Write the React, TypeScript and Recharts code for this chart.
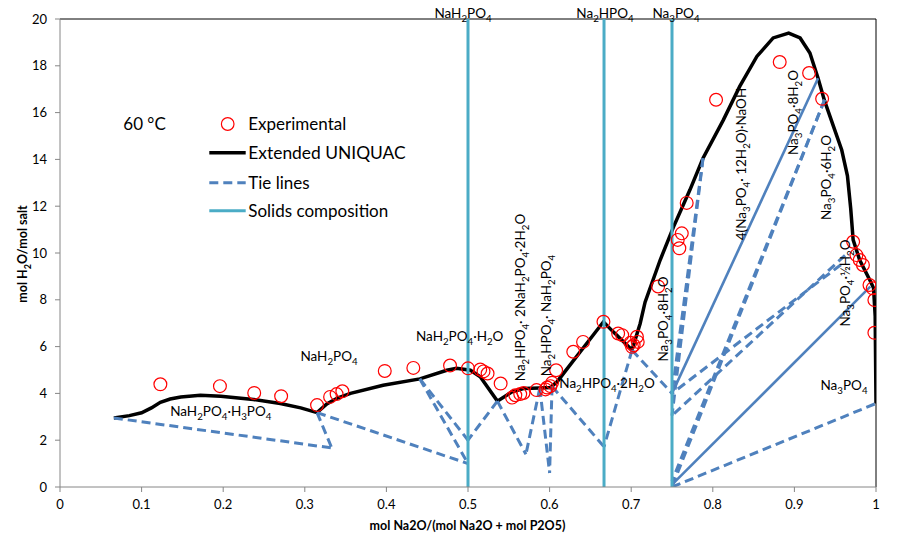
import React from 'react';
import { ComposedChart, Line, Scatter, XAxis, YAxis, ReferenceLine } from 'recharts';

const FONT = "Lato, 'Open Sans', sans-serif";
const W = 882;
const H = 540;

const xTicks = [0, 0.1, 0.2, 0.3, 0.4, 0.5, 0.6, 0.7, 0.8, 0.9, 1];
const yTicks = [0, 2, 4, 6, 8, 10, 12, 14, 16, 18, 20];

// Solid compositions (vertical lines)
const solidsX = [0.5, 0.6667, 0.75];

// Extended UNIQUAC solubility curve
const curve = [
  { x: 0.066, y: 2.95 }, { x: 0.085, y: 3.05 }, { x: 0.1, y: 3.17 }, { x: 0.112, y: 3.38 },
  { x: 0.123, y: 3.62 }, { x: 0.135, y: 3.76 }, { x: 0.148, y: 3.85 }, { x: 0.172, y: 3.92 },
  { x: 0.197, y: 3.88 }, { x: 0.237, y: 3.74 }, { x: 0.27, y: 3.57 }, { x: 0.295, y: 3.38 },
  { x: 0.315, y: 3.18 }, { x: 0.327, y: 3.55 }, { x: 0.34, y: 3.8 }, { x: 0.356, y: 4.0 },
  { x: 0.396, y: 4.35 }, { x: 0.441, y: 4.62 }, { x: 0.474, y: 4.99 }, { x: 0.486, y: 5.07 },
  { x: 0.503, y: 4.99 }, { x: 0.515, y: 4.71 }, { x: 0.536, y: 3.67 }, { x: 0.554, y: 4.07 },
  { x: 0.568, y: 4.21 }, { x: 0.588, y: 4.23 }, { x: 0.601, y: 4.25 }, { x: 0.609, y: 4.49 },
  { x: 0.666, y: 7.06 }, { x: 0.678, y: 6.63 }, { x: 0.701, y: 5.85 }, { x: 0.711, y: 6.99 },
  { x: 0.717, y: 7.9 }, { x: 0.7355, y: 9.7 }, { x: 0.752, y: 11.13 }, { x: 0.772, y: 12.7 },
  { x: 0.788, y: 14.05 }, { x: 0.813, y: 15.69 }, { x: 0.833, y: 17.12 }, { x: 0.854, y: 18.4 },
  { x: 0.874, y: 19.19 }, { x: 0.893, y: 19.4 }, { x: 0.907, y: 19.19 }, { x: 0.919, y: 18.55 },
  { x: 0.929, y: 17.47 }, { x: 0.937, y: 16.5 }, { x: 0.948, y: 15.4 }, { x: 0.958, y: 14.4 },
  { x: 0.965, y: 13.3 }, { x: 0.969, y: 11.9 }, { x: 0.972, y: 10.56 }, { x: 0.98, y: 9.7 },
  { x: 0.993, y: 8.8 }, { x: 0.997, y: 8.5 }, { x: 0.999, y: 7.3 }, { x: 1.0, y: 3.57 },
];

// Experimental points
const experimental = [
  { x: 0.123, y: 4.39 }, { x: 0.196, y: 4.31 }, { x: 0.238, y: 4.02 }, { x: 0.271, y: 3.88 },
  { x: 0.315, y: 3.5 }, { x: 0.331, y: 3.85 }, { x: 0.339, y: 3.97 }, { x: 0.346, y: 4.09 },
  { x: 0.398, y: 4.96 }, { x: 0.433, y: 5.09 }, { x: 0.478, y: 5.19 }, { x: 0.5, y: 5.07 },
  { x: 0.515, y: 5.02 }, { x: 0.519, y: 4.94 }, { x: 0.524, y: 4.85 }, { x: 0.54, y: 4.42 },
  { x: 0.554, y: 3.82 }, { x: 0.558, y: 3.92 }, { x: 0.564, y: 3.97 }, { x: 0.568, y: 4.02 },
  { x: 0.584, y: 4.14 }, { x: 0.595, y: 4.17 }, { x: 0.597, y: 4.25 }, { x: 0.601, y: 4.31 },
  { x: 0.603, y: 4.45 }, { x: 0.608, y: 4.99 }, { x: 0.629, y: 5.78 }, { x: 0.641, y: 6.2 },
  { x: 0.666, y: 7.06 }, { x: 0.684, y: 6.56 }, { x: 0.689, y: 6.49 }, { x: 0.699, y: 6.16 },
  { x: 0.701, y: 5.99 }, { x: 0.703, y: 6.06 }, { x: 0.707, y: 6.42 }, { x: 0.708, y: 6.2 },
  { x: 0.733, y: 8.57 }, { x: 0.759, y: 10.2 }, { x: 0.757, y: 10.56 }, { x: 0.762, y: 10.84 },
  { x: 0.768, y: 12.14 }, { x: 0.804, y: 16.55 }, { x: 0.882, y: 18.16 }, { x: 0.918, y: 17.69 },
  { x: 0.934, y: 16.59 }, { x: 0.972, y: 10.48 }, { x: 0.976, y: 9.91 }, { x: 0.98, y: 9.7 },
  { x: 0.984, y: 9.49 }, { x: 0.992, y: 8.63 }, { x: 0.996, y: 8.49 }, { x: 0.998, y: 7.99 },
  { x: 0.998, y: 6.59 },
];

// Tie lines: [x1, y1, x2, y2]
const tieLines: number[][] = [
  [0.066, 2.95, 0.333, 1.67],
  [0.315, 3.18, 0.333, 1.67],
  [0.315, 3.18, 0.5, 1.0],
  [0.441, 4.62, 0.5, 1.0],
  [0.441, 4.62, 0.5, 2.0],
  [0.536, 3.67, 0.5, 2.0],
  [0.536, 3.67, 0.571, 1.4],
  [0.588, 4.23, 0.571, 1.4],
  [0.588, 4.23, 0.6, 0.6],
  [0.603, 4.3, 0.6, 0.6],
  [0.603, 4.3, 0.6667, 1.72],
  [0.701, 5.85, 0.6667, 1.72],
  [0.701, 5.85, 0.75, 4.0],
  [0.788, 14.05, 0.75, 4.0],
  [0.788, 14.05, 0.75, 3.05],
  [0.937, 16.55, 0.75, 0.25],
  [0.937, 16.55, 0.75, 0.0],
  [0.957, 9.5, 0.75, 4.0],
  [0.962, 9.9, 0.75, 3.05],
  [0.75, 0.0, 1.0, 3.57],
];
// Tie lines drawn so densely they appear solid
const solidTieLines: number[][] = [
  [0.75, 4.0, 0.929, 17.47],
  [0.75, 0.1, 0.993, 8.56],
];

const TIE = '#4F81BD';
const SOLID = '#4BACC6';

function spans(text: string, fs: number) {
  const out: React.ReactNode[] = [];
  const re = /_(\d+)|([^_]+)/g;
  let m: RegExpExecArray | null;
  let inSub = false;
  let k = 0;
  const sh = fs * 0.3;
  while ((m = re.exec(text))) {
    if (m[1] !== undefined) {
      out.push(<tspan key={k++} fontSize={fs * 0.72} dy={inSub ? 0 : sh}>{m[1]}</tspan>);
      inSub = true;
    } else {
      out.push(<tspan key={k++} fontSize={fs} dy={inSub ? -sh : 0}>{m[2]}</tspan>);
      inSub = false;
    }
  }
  return out;
}

function Lbl({ x, y, text, fs = 13.5, rot = false, anchor = 'middle', weight = 'normal' }:
  { x: number; y: number; text: string; fs?: number; rot?: boolean; anchor?: string; weight?: string }) {
  const tr = rot ? `translate(${x},${y}) rotate(-90)` : `translate(${x},${y})`;
  return (
    <text transform={tr} x={0} y={fs * 0.35} textAnchor={anchor as any} fontSize={fs}
      fontFamily={FONT} fontWeight={weight} fill="#000">
      {spans(text, fs)}
    </text>
  );
}

const Circle = (p: any) => (
  <circle cx={p.cx} cy={p.cy} r={6.4} fill="none" stroke="#FF0000" strokeWidth={1.2} />
);

export default function App() {
  const tick = { fontSize: 13, fill: '#000', fontFamily: FONT };
  return (
    <div style={{ position: 'relative', width: W, height: H }}>
      <ComposedChart width={W} height={H} margin={{ top: 11, right: 14, bottom: 31, left: 0 }}>
        <XAxis type="number" dataKey="x" domain={[0, 1]} ticks={xTicks} interval={0}
          tick={tick} tickSize={5} tickMargin={8} height={30}
          axisLine={{ stroke: '#868686' }} tickLine={{ stroke: '#868686' }} allowDataOverflow />
        <YAxis type="number" dataKey="y" domain={[0, 20]} ticks={yTicks} interval={0}
          tick={tick} tickSize={5} tickMargin={8} width={52}
          axisLine={{ stroke: '#868686' }} tickLine={{ stroke: '#868686' }} allowDataOverflow />
        <ReferenceLine y={20} stroke="#000" strokeWidth={1} />
        <ReferenceLine x={1} stroke="#000" strokeWidth={1} />
        <Scatter data={experimental} dataKey="y" shape={Circle} isAnimationActive={false} />
        <Line data={curve} dataKey="y" type="linear" stroke="#000" strokeWidth={3.5}
          dot={false} activeDot={false} isAnimationActive={false} />
        {tieLines.map((t, i) => (
          <Line key={'t' + i} data={[{ x: t[0], y: t[1] }, { x: t[2], y: t[3] }]} dataKey="y"
            type="linear" stroke={TIE} strokeWidth={3} strokeDasharray="9 5"
            dot={false} activeDot={false} isAnimationActive={false} />
        ))}
        {solidTieLines.map((t, i) => (
          <Line key={'s' + i} data={[{ x: t[0], y: t[1] }, { x: t[2], y: t[3] }]} dataKey="y"
            type="linear" stroke={TIE} strokeWidth={2.6}
            dot={false} activeDot={false} isAnimationActive={false} />
        ))}
        {solidsX.map((sx, i) => (
          <Line key={'v' + i} data={[{ x: sx, y: 0 }, { x: sx, y: 20 }]} dataKey="y"
            type="linear" stroke={SOLID} strokeWidth={3}
            dot={false} activeDot={false} isAnimationActive={false} />
        ))}
      </ComposedChart>
      <svg width={W} height={H} overflow="visible"
        style={{ position: 'absolute', left: 0, top: 0, pointerEvents: 'none', overflow: 'visible' }}>
        {/* temperature */}
        <Lbl x={115.3} y={116.3} text="60 °C" fs={17} anchor="start" />
        {/* legend */}
        <circle cx={219.7} cy={116} r={6.3} fill="none" stroke="#FF0000" strokeWidth={1.2} />
        <Lbl x={240.3} y={116} text="Experimental" fs={17} anchor="start" />
        <line x1={201.3} x2={237.7} y1={144.7} y2={144.7} stroke="#000" strokeWidth={3.5} />
        <Lbl x={240.3} y={144.7} text="Extended UNIQUAC" fs={17.4} anchor="start" />
        <line x1={201.3} x2={237.7} y1={174.7} y2={174.7} stroke={TIE} strokeWidth={3} strokeDasharray="9 5" />
        <Lbl x={240.3} y={174.7} text="Tie lines" fs={17} anchor="start" />
        <line x1={201.3} x2={237.7} y1={202.7} y2={202.7} stroke={SOLID} strokeWidth={3} />
        <Lbl x={240.3} y={202.7} text="Solids composition" fs={17} anchor="start" />
        {/* top labels */}
        <Lbl x={455} y={5.5} text="NaH_2PO_4" />
        <Lbl x={597} y={5.5} text="Na_2HPO_4" />
        <Lbl x={668} y={5.5} text="Na_3PO_4" />
        {/* region labels */}
        <Lbl x={212.8} y={403.7} text="NaH_2PO_4·H_3PO_4" />
        <Lbl x={321} y={348} text="NaH_2PO_4" />
        <Lbl x={451.7} y={328.7} text="NaH_2PO_4·H_2O" />
        <Lbl x={599} y={375.3} text="Na_2HPO_4·2H_2O" />
        <Lbl x={836} y={377} text="Na_3PO_4" />
        <Lbl x={512} y={289.5} text="Na_2HPO_4· 2NaH_2PO_4·2H_2O" rot />
        <Lbl x={538} y={307.5} text="Na_2HPO_4· NaH_2PO_4" rot />
        <Lbl x={655} y={311} text="Na_3PO_4·8H_2O" rot />
        <Lbl x={733.5} y={156} text="4(Na_3PO_4· 12H_2O)·NaOH" rot />
        <Lbl x={785} y={104.5} text="Na_3PO_4·8H_2O" rot />
        <Lbl x={818.5} y={169.5} text="Na_3PO_4·6H_2O" rot />
        <Lbl x={837} y={275} text="Na_3PO_4·½H_2O" rot />
        {/* axis titles */}
        <Lbl x={14.5} y={246} text="mol H_2O/mol salt" fs={12.5} rot weight="bold" />
        <Lbl x={459.5} y={517.7} text="mol Na2O/(mol Na2O + mol P2O5)" fs={12.5} weight="bold" />
      </svg>
    </div>
  );
}
